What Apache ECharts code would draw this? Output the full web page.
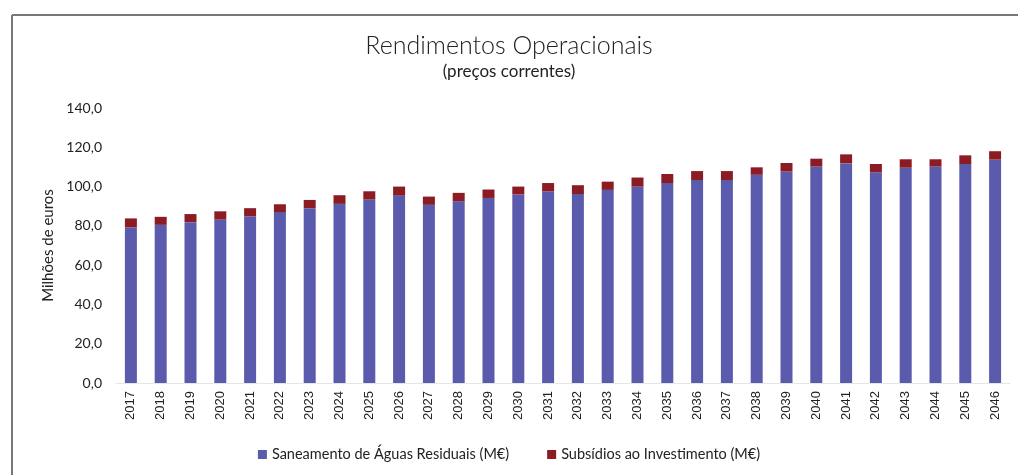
<!DOCTYPE html>
<html>
<head>
<meta charset="utf-8">
<script src="https://cdn.jsdelivr.net/npm/echarts@6/dist/echarts.min.js"></script>
<style>
  html, body { margin: 0; padding: 0; background: #fff; }
  #chart { width: 1018px; height: 475px; }
</style>
</head>
<body>
<div id="chart"></div>
<script>
// valores (M€)
const years = ['2017', '2018', '2019', '2020', '2021', '2022', '2023', '2024', '2025', '2026',
  '2027', '2028', '2029', '2030', '2031', '2032', '2033', '2034', '2035', '2036',
  '2037', '2038', '2039', '2040', '2041', '2042', '2043', '2044', '2045', '2046']
const saneamento = [79.2, 80.5, 81.9, 83.2, 84.8, 87.0, 89.0, 91.2, 93.4, 95.4,
  90.7, 92.5, 94.2, 96.0, 97.5, 96.2, 98.3, 100.0, 101.8, 103.3,
  103.3, 106.0, 107.6, 110.2, 111.8, 107.3, 109.6, 110.2, 111.5, 113.7]
const subsidios = [4.6, 4.1, 4.1, 4.2, 4.2, 4.0, 4.2, 4.4, 4.2, 4.6,
  4.2, 4.3, 4.3, 4.0, 4.3, 4.5, 4.2, 4.6, 4.6, 4.6,
  4.6, 3.8, 4.4, 4.0, 4.6, 4.2, 4.3, 3.7, 4.4, 4.3]
const yTicks = { min: 0, max: 140, interval: 20 }

const chart = echarts.init(document.getElementById('chart'))

const option = {
  animation: false,
  title: {
    text: 'Rendimentos Operacionais',
    subtext: '(preços correntes)',
    left: 'center',
    top: 28,
    itemGap: 5,
    textStyle: { fontFamily: 'Lato', fontWeight: 300, fontSize: 25, color: '#222' },
    subtextStyle: { fontFamily: 'Lato', fontSize: 17, color: '#222' }
  },
  graphic: [
    { type: 'line', shape: { x1: 12, y1: 15, x2: 1018, y2: 15 }, style: { stroke: '#777', lineWidth: 2 } },
    { type: 'line', shape: { x1: 12, y1: 15, x2: 12, y2: 475 }, style: { stroke: '#777', lineWidth: 2 } }
  ],
  legend: {
    bottom: 8,
    left: 'center',
    itemWidth: 9,
    itemHeight: 9,
    itemGap: 38,
    icon: 'rect',
    textStyle: { fontFamily: 'Lato', fontSize: 14.5, color: '#222' },
    data: ['Saneamento de Águas Residuais (M€)', 'Subsídios ao Investimento (M€)']
  },
  grid: { left: 116, right: 8, top: 108, bottom: 92 },
  xAxis: {
    type: 'category',
    data: years,
    axisLine: { lineStyle: { color: '#e6e6e6' } },
    axisTick: { show: false },
    axisLabel: { rotate: 90, color: '#222', fontFamily: 'Liberation Sans', fontSize: 13, margin: 8 }
  },
  yAxis: {
    type: 'value',
    min: yTicks.min,
    max: yTicks.max,
    interval: yTicks.interval,
    name: 'Milhões de euros',
    nameLocation: 'middle',
    nameGap: 56,
    nameTextStyle: { fontFamily: 'Lato', fontSize: 15, color: '#222' },
    axisLine: { show: false },
    axisTick: { show: false },
    splitLine: { show: false },
    axisLabel: {
      color: '#222',
      fontFamily: 'Lato',
      fontSize: 14,
      margin: 14,
      formatter: (v) => v.toFixed(1).replace('.', ',')
    }
  },
  series: [
    {
      name: 'Saneamento de Águas Residuais (M€)',
      type: 'bar',
      stack: 'total',
      barWidth: 12,
      data: saneamento,
      itemStyle: { color: '#5b5bae' }
    },
    {
      name: 'Subsídios ao Investimento (M€)',
      type: 'bar',
      stack: 'total',
      barWidth: 12,
      data: subsidios,
      itemStyle: { color: '#8c1c24' }
    }
  ]
}

chart.setOption(option)
</script>
</body>
</html>
